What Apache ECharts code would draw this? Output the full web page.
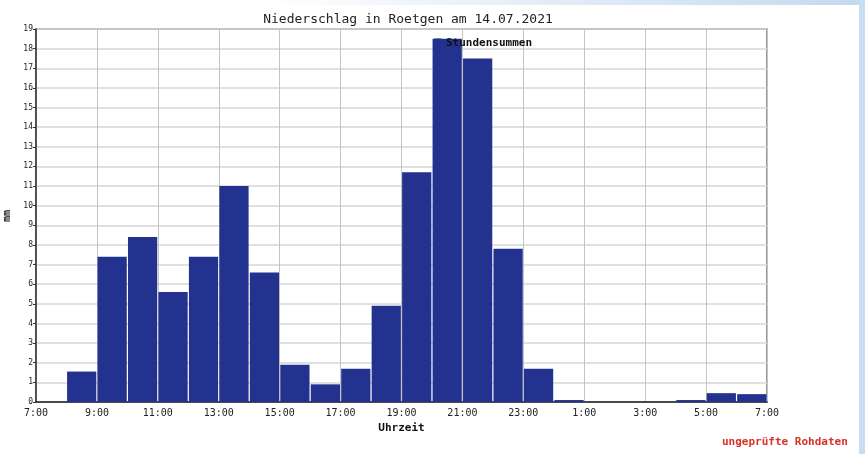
<!DOCTYPE html>
<html>
<head>
<meta charset="utf-8">
<script src="https://cdn.jsdelivr.net/npm/echarts@6/dist/echarts.min.js"></script>
<style>
html,body{margin:0;padding:0;background:#fff;}
#main{width:865px;height:454px;}
</style>
</head>
<body>
<div id="main"></div>
<script>
// Stundensummen Niederschlag, 7:00 bis 7:00 (mm)
var hours = ['7-8','8-9','9-10','10-11','11-12','12-13','13-14','14-15','15-16','16-17','17-18','18-19',
             '19-20','20-21','21-22','22-23','23-0','0-1','1-2','2-3','3-4','4-5','5-6','6-7'];
var stundensummen = [0,1.55,7.4,8.4,5.6,7.4,11.0,6.6,1.9,0.9,1.7,4.9,
                     11.7,18.5,17.5,7.8,1.7,0.1,0,0,0,0.1,0.45,0.4];
var startHour = 7;
var yMax = 19;

var mono = '"DejaVu Sans Mono", monospace';

function drawChart(){
    var myChart = echarts.init(document.getElementById('main'));
    var option = {
        backgroundColor: '#fff',
        animation: false,
        title: {
            text: 'Niederschlag in Roetgen am 14.07.2021',
            left: 403,
            textAlign: 'center',
            top: 8,
            textStyle: {fontFamily: mono, fontSize: 13, fontWeight: 'normal', color: '#222'}
        },
        legend: {
            data: ['Stundensummen'],
            left: 428,
            top: 33,
            itemWidth: 10,
            itemHeight: 10,
            itemGap: 4,
            textStyle: {fontFamily: mono, fontSize: 11, fontWeight: 'bold', color: '#111', padding: [0,0,0,-2]}
        },
        graphic: [
            {type: 'rect', shape: {x: 0, y: 0, width: 865, height: 5}, silent: true,
             style: {fill: new echarts.graphic.LinearGradient(0,0,1,0,[
                {offset: 0, color: '#ffffff'},{offset: 0.3, color: '#ffffff'},{offset: 1, color: '#c4d9ef'}])}},
            {type: 'rect', shape: {x: 859, y: 0, width: 6, height: 454}, silent: true,
             style: {fill: '#c9ddf2'}},
            {type: 'text', left: 722, top: 437, silent: true,
             style: {text: 'ungeprüfte Rohdaten', fill: '#d8312a', font: 'bold 11px ' + mono}},
            {type: 'text', x: 2, y: 222, rotation: Math.PI/2, silent: true,
             style: {text: 'mm', fill: '#111', font: 'bold 10px ' + mono}}
        ],
        grid: {left: 36, top: 29, right: 98, bottom: 52, show: true,
               borderColor: '#777', borderWidth: 1.5},
        xAxis: [
            {
                type: 'value',
                min: 0, max: 24, interval: 2,
                name: 'Uhrzeit',
                nameLocation: 'middle',
                nameGap: 19,
                nameTextStyle: {fontFamily: mono, fontSize: 11, fontWeight: 'bold', color: '#111'},
                axisLine: {show: true, lineStyle: {color: '#222', width: 1.5}},
                axisTick: {show: false},
                axisLabel: {
                    fontFamily: mono, fontSize: 10, color: '#222', margin: 6,
                    formatter: function(v){ return ((v + startHour) % 24) + ':00'; }
                },
                splitLine: {show: true, lineStyle: {color: '#c4c4c4', width: 1}}
            },
            {
                type: 'category',
                data: hours,
                show: false,
                boundaryGap: true
            }
        ],
        yAxis: {
            type: 'value',
            min: 0, max: yMax, interval: 1,
            axisLine: {show: true, lineStyle: {color: '#333', width: 1.5}},
            axisTick: {show: true, length: 3, lineStyle: {color: '#333'}},
            axisLabel: {fontFamily: mono, fontSize: 8, color: '#222', margin: 3},
            splitLine: {show: true, lineStyle: {color: '#d6d6d6', width: 1.5}}
        },
        series: [
            {
                name: 'Stundensummen',
                type: 'bar',
                xAxisIndex: 1,
                data: stundensummen,
                barCategoryGap: '4%',
                itemStyle: {color: '#23318f'}
            }
        ]
    };
    myChart.setOption(option);
}
drawChart();
</script>
</body>
</html>
